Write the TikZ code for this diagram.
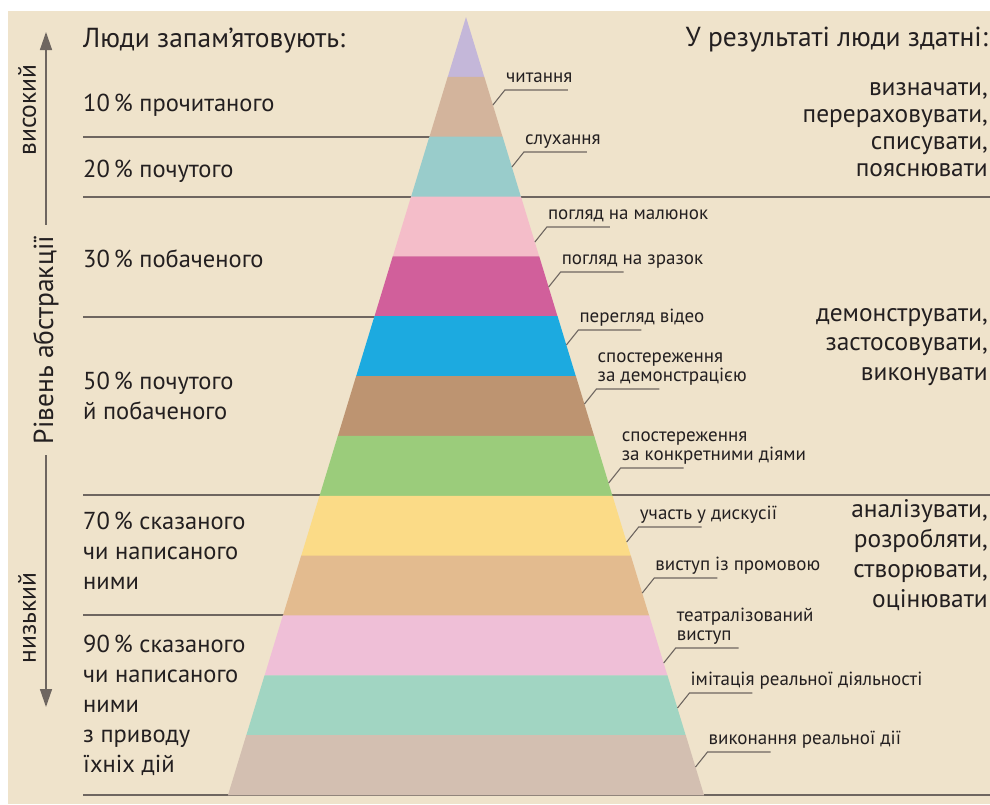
\documentclass[tikz,border=0pt]{standalone}
\usepackage{fontspec}
\setmainfont{PT Sans}
\usetikzlibrary{arrows.meta,positioning}

\definecolor{bgbeige}{HTML}{EFE3CB}
\definecolor{ink}{HTML}{231F20}
\definecolor{rulegray}{HTML}{6E6660}
% pyramid layers, top to bottom
\definecolor{layA}{HTML}{C4B7D9}
\definecolor{layB}{HTML}{D3B49C}
\definecolor{layC}{HTML}{99CCCB}
\definecolor{layD}{HTML}{F4BDC9}
\definecolor{layE}{HTML}{D15F9B}
\definecolor{layF}{HTML}{1CAAE0}
\definecolor{layG}{HTML}{BD9471}
\definecolor{layH}{HTML}{9BCC7B}
\definecolor{layI}{HTML}{FBDB87}
\definecolor{layJ}{HTML}{E3BB8F}
\definecolor{layK}{HTML}{EFBFD7}
\definecolor{layL}{HTML}{A1D5C2}
\definecolor{layM}{HTML}{D3BFB1}

\begin{document}
\begin{tikzpicture}[
    x=1pt, y=-1pt,
    rule/.style={draw=rulegray, line width=1.3pt},
    leader/.style={draw=rulegray, line width=1.1pt},
    heading/.style={inner sep=0pt, font=\fontsize{27.5}{30}\selectfont, text=ink},
    share/.style={anchor=base west, inner sep=0pt, align=left, font=\fontsize{24.5}{30}\selectfont, text=ink},
    skill/.style={anchor=base east, inner sep=0pt, align=right, text=ink},
    tag/.style={anchor=south west, inner xsep=1pt, inner ysep=4.5pt, text depth=3pt, align=left, font=\fontsize{19}{19}\selectfont, text=ink},
    axislabel/.style={rotate=90, inner ysep=0pt, text=ink},
    axisarrow/.style={draw=rulegray, line width=1.4pt, -{Triangle[length=18pt,width=12pt]}}
]
\useasboundingbox (0,0) rectangle (990,804);
\fill[bgbeige] (8,11) rectangle (990,804);

% separating rules
\draw[rule] (83,137) -- (466,137);
\draw[rule] (83,197) -- (990,197);
\draw[rule] (83,317) -- (466,317);
\draw[rule] (83,495) -- (990,495);
\draw[rule] (83,615) -- (466,615);
\draw[rule] (83,795) -- (990,795);

% pyramid
\foreach \c [count=\i from 0] in {layA,layB,layC,layD,layE,layF,layG,layH,layI,layJ,layK,layL,layM} {
  \pgfmathsetmacro\ya{17+59.846*\i}
  \pgfmathsetmacro\yb{\ya+59.846}
  \pgfmathsetmacro\wa{0.306*(\ya-17)}
  \pgfmathsetmacro\wb{0.306*(\yb-17)}
  \fill[\c] (466-\wa,\ya) -- (466+\wa,\ya) -- (466+\wb,\yb+0.3) -- (466-\wb,\yb+0.3) -- cycle;
}

% labels on the pyramid
\foreach \yd/\txt [count=\i] in {105/читання, 167/слухання, 242/погляд на малюнок,
    287/погляд на зразок, 345/перегляд відео, 404/{спостереження\\за демонстрацією},
    483/{спостереження\\за конкретними діями}, 542/участь у дискусії,
    593/виступ із промовою, 663/{театралізований\\виступ},
    708/імітація реальної діяльності, 767/виконання реальної дії} {
  \pgfmathsetmacro\ex{466+0.306*(\yd-17)}
  \coordinate (edge\i) at (\ex,\yd);
  \coordinate (knee\i) at (\ex+12,\yd-15);
  \node[tag] (tag\i) at (knee\i) {\txt};
  \draw[leader] (edge\i) -- (knee\i) -- ++(63,0);
}

% left column (multi-line nodes sit on their last line)
\node[heading, anchor=base west] (remember) at (83,47) {Люди запам’ятовують:};
\node[share] (p10) at (83,111) {10\,\% прочитаного};
\node[share] (p20) at (83,177) {20\,\% почутого};
\node[share] (p30) at (83,267) {30\,\% побаченого};
\node[share] (p50) at (83,419) {50\,\% почутого\\й побаченого};
\node[share] (p70) at (83,589) {70\,\% сказаного\\чи написаного\\ними};
\node[share] (p90) at (83,772) {90\,\% сказаного\\чи написаного\\ними\\з приводу\\їхніх дій};

% right column
\node[heading, anchor=base east] (able) at (988,46) {У результаті люди здатні:};
\node[skill, font=\fontsize{25.4}{27}\selectfont] (low) at (988,176)
  {визначати,\\перераховувати,\\списувати,\\пояснювати};
\node[skill, font=\fontsize{25.4}{29.5}\selectfont] (mid) at (988,380)
  {демонструвати,\\застосовувати,\\виконувати};
\node[skill, font=\fontsize{25.4}{30}\selectfont] (high) at (988,607)
  {аналізувати,\\розробляти,\\створювати,\\оцінювати};

% abstraction axis
\coordinate (axtop) at (46,32);
\coordinate (axbot) at (46,707);
\node[axislabel, inner xsep=11pt, font=\fontsize{27.5}{30}\selectfont] (abstr) at (46,340) {Рівень абстракції};
\draw[axisarrow] (abstr.east) -- (axtop);
\draw[axisarrow] (abstr.west) -- (axbot);
\node[axislabel, font=\fontsize{25.5}{28}\selectfont] (highlvl) at (27,110) {високий};
\node[axislabel, font=\fontsize{25.5}{28}\selectfont] (lowlvl) at (27,618) {низький};
\end{tikzpicture}
\end{document}
